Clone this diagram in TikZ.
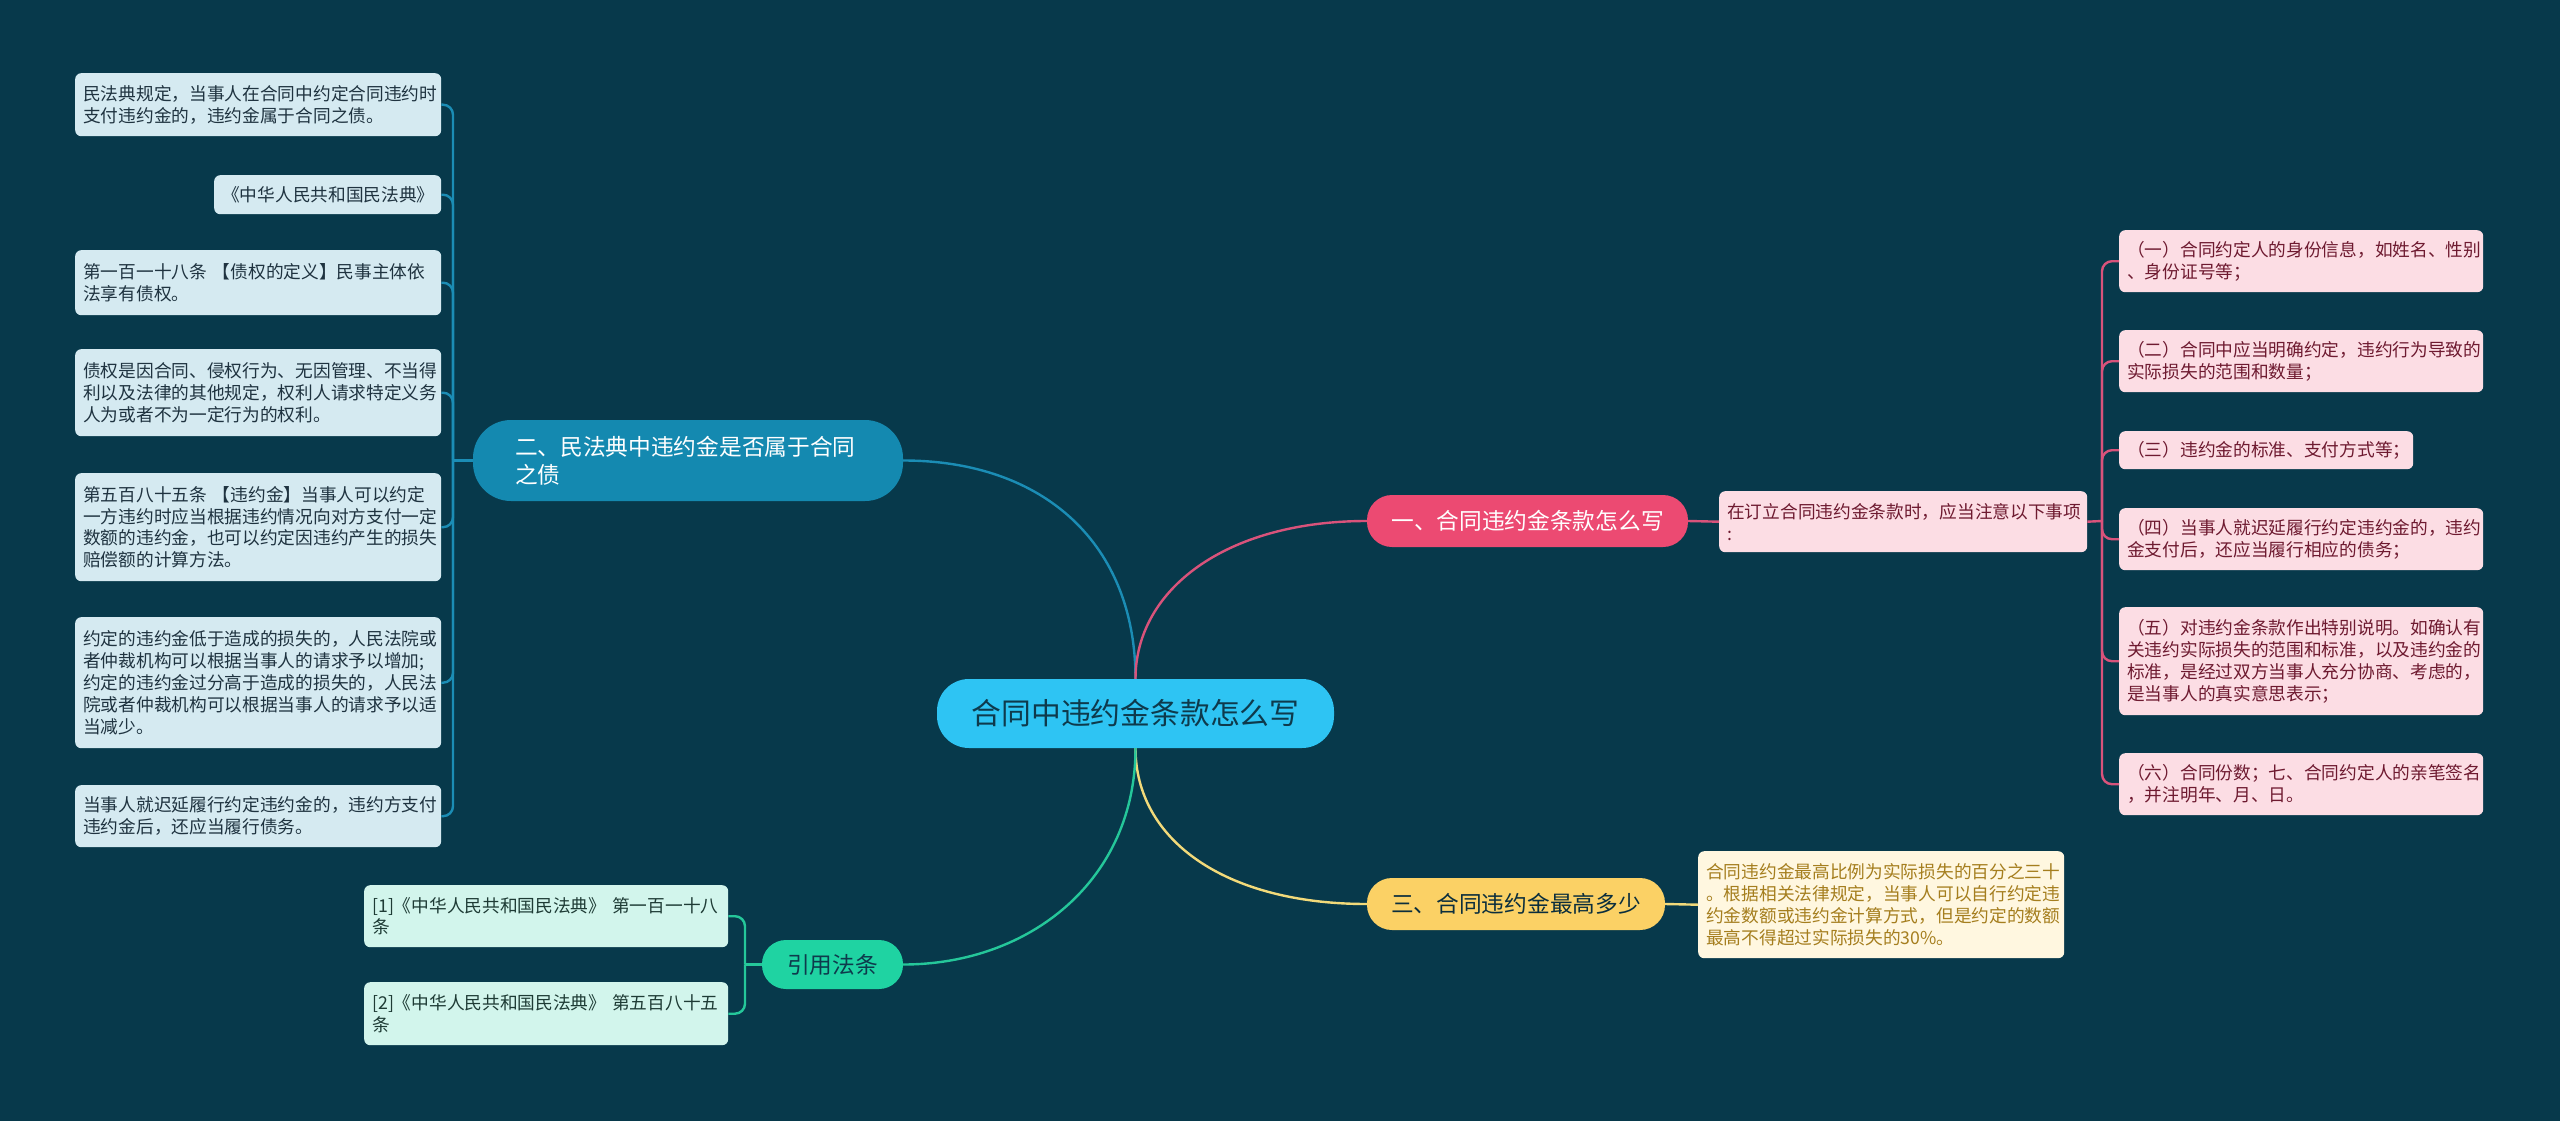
\documentclass[tikz,border=0pt]{standalone}
\usepackage{fontspec}
\setmainfont{Noto Sans CJK SC}
\definecolor{bg}{HTML}{07394B}
\definecolor{cfill}{HTML}{2EC4F3}
\definecolor{ctext}{HTML}{0E3A4C}
\definecolor{bfill}{HTML}{1489B0}
\definecolor{bline}{HTML}{1B8DB5}
\definecolor{bleaf}{HTML}{D5EAF1}
\definecolor{bleaftext}{HTML}{1F3340}
\definecolor{pfill}{HTML}{EC4A72}
\definecolor{pline}{HTML}{D9537B}
\definecolor{pleaf}{HTML}{FCDDE4}
\definecolor{pleaftext}{HTML}{6E1A30}
\definecolor{yfill}{HTML}{FBD165}
\definecolor{yline}{HTML}{F2DA7A}
\definecolor{yleaf}{HTML}{FFF7E0}
\definecolor{yleaftext}{HTML}{A57E1E}
\definecolor{gfill}{HTML}{1FD3A2}
\definecolor{gline}{HTML}{25C79A}
\definecolor{gleaf}{HTML}{D2F5EC}
\definecolor{gleaftext}{HTML}{1E3B35}
\newcommand{\leaffont}{\fontsize{17.7}{21.8}\selectfont}
\newcommand{\pillfont}{\fontsize{22.7}{28}\selectfont}
\newcommand{\rootfont}{\fontsize{29.8}{34}\selectfont}
\begin{document}
\begin{tikzpicture}[x=1pt,y=-1pt,
  leaf/.style={rectangle, rounded corners=6pt, font=\leaffont, align=left,
    inner xsep=8pt, inner ysep=0pt, anchor=north west},
  bl/.style={leaf, fill=bleaf, text=bleaftext},
  pl/.style={leaf, fill=pleaf, text=pleaftext},
  yl/.style={leaf, fill=yleaf, text=yleaftext},
  gl/.style={leaf, fill=gleaf, text=gleaftext},
  pill/.style={rectangle, font=\pillfont, inner sep=0pt, align=center},
  conn/.style={line width=2.4pt},
  rc/.style={rounded corners=10pt}
]
\useasboundingbox (0,0) rectangle (2560,1121);
\fill[bg] (0,0) rectangle (2560,1121);

% root
\node[pill, fill=cfill, text=ctext, font=\rootfont, rounded corners=32pt,
  minimum width=397pt, minimum height=69pt] (C) at (1135.5,713.5) {合同中违约金条款怎么写};

% main branches
\node[pill, fill=bfill, text=white, rounded corners=38pt, align=left,
  text width=346pt, minimum height=81pt, inner xsep=42pt] (LB) at (688,460.5)
  {二、民法典中违约金是否属于合同\\之债};
\node[pill, fill=pfill, text=white, rounded corners=25pt,
  minimum width=321pt, minimum height=52pt] (P1) at (1527.5,521) {一、合同违约金条款怎么写};
\node[pill, fill=yfill, text=ctext!80!black, rounded corners=25pt,
  minimum width=298pt, minimum height=52pt] (Y1) at (1516,904) {三、合同违约金最高多少};
\node[pill, fill=gfill, text=ctext, rounded corners=24pt,
  minimum width=141pt, minimum height=49pt] (G) at (832.5,964.5) {引用法条};

% left leaves
\node[bl, text width=350pt, minimum height=63pt] (a) at (75,73)
  {民法典规定，当事人在合同中约定合同违约时\\支付违约金的，违约金属于合同之债。};
\node[bl, text width=211pt, minimum height=39pt] (b) at (214,175)
  {《中华人民共和国民法典》};
\node[bl, text width=350pt, minimum height=65pt] (c) at (75,250)
  {第一百一十八条 【债权的定义】民事主体依\\法享有债权。};
\node[bl, text width=350pt, minimum height=87pt] (d) at (75,349)
  {债权是因合同、侵权行为、无因管理、不当得\\利以及法律的其他规定，权利人请求特定义务\\人为或者不为一定行为的权利。};
\node[bl, text width=350pt, minimum height=108pt] (e) at (75,473)
  {第五百八十五条 【违约金】当事人可以约定\\一方违约时应当根据违约情况向对方支付一定\\数额的违约金，也可以约定因违约产生的损失\\赔偿额的计算方法。};
\node[bl, text width=350pt, minimum height=131pt] (f) at (75,617)
  {约定的违约金低于造成的损失的，人民法院或\\者仲裁机构可以根据当事人的请求予以增加;\\约定的违约金过分高于造成的损失的，人民法\\院或者仲裁机构可以根据当事人的请求予以适\\当减少。};
\node[bl, text width=350pt, minimum height=62pt] (g) at (75,785)
  {当事人就迟延履行约定违约金的，违约方支付\\违约金后，还应当履行债务。};

% pink side
\node[pl, text width=352pt, minimum height=61pt] (M) at (1719,491)
  {在订立合同违约金条款时，应当注意以下事项\\:};
\node[pl, text width=348pt, minimum height=62pt] (r1) at (2119,230)
  {（一）合同约定人的身份信息，如姓名、性别\\、身份证号等；};
\node[pl, text width=348pt, minimum height=62pt] (r2) at (2119,330)
  {（二）合同中应当明确约定，违约行为导致的\\实际损失的范围和数量；};
\node[pl, text width=278pt, minimum height=38pt] (r3) at (2119,431)
  {（三）违约金的标准、支付方式等；};
\node[pl, text width=348pt, minimum height=62pt] (r4) at (2119,508)
  {（四）当事人就迟延履行约定违约金的，违约\\金支付后，还应当履行相应的债务；};
\node[pl, text width=348pt, minimum height=108pt] (r5) at (2119,607)
  {（五）对违约金条款作出特别说明。如确认有\\关违约实际损失的范围和标准，以及违约金的\\标准，是经过双方当事人充分协商、考虑的，\\是当事人的真实意思表示；};
\node[pl, text width=348pt, minimum height=62pt] (r6) at (2119,753)
  {（六）合同份数；七、合同约定人的亲笔签名\\，并注明年、月、日。};

% yellow leaf
\node[yl, text width=350pt, minimum height=107pt] (yl1) at (1698,851)
  {合同违约金最高比例为实际损失的百分之三十\\。根据相关法律规定，当事人可以自行约定违\\约金数额或违约金计算方式，但是约定的数额\\最高不得超过实际损失的30\%。};

% green leaves
\node[gl, text width=348pt, minimum height=62pt] (g1) at (364,885)
  {[1]《中华人民共和国民法典》 第一百一十八\\条};
\node[gl, text width=348pt, minimum height=63pt] (g2) at (364,982)
  {[2]《中华人民共和国民法典》 第五百八十五\\条};

% junctions
\coordinate (LJ) at (453,460.5);
\coordinate (RJ) at (2102,521);
\coordinate (GJ) at (745,964.5);

% main curves
\draw[conn, bline] (C.north) .. controls (1135.5,545) and (1045,460.5) .. (LB.east);
\draw[conn, pline] (C.north) .. controls (1135.5,590) and (1225,521) .. (P1.west);
\draw[conn, yline] (C.south) .. controls (1135.5,840) and (1225,904) .. (Y1.west);
\draw[conn, gline] (C.south) .. controls (1135.5,880) and (1030,964.5) .. (G.east);

% straight links
\draw[conn, pline] (P1.east) -- (M.west);
\draw[conn, yline] (Y1.east) -- (yl1.west);

% left fan
\draw[conn, bline] (LB.west) -- (LJ);
\foreach \n in {a,b,c,d,e,f,g}
  \draw[conn, bline, rc] (LJ) -- (LJ |- \n.east) -- (\n.east);

% right fan
\draw[conn, pline] (M.east) -- (RJ);
\foreach \n in {r1,r2,r3,r4,r5,r6}
  \draw[conn, pline, rc] (RJ) -- (RJ |- \n.west) -- (\n.west);

% green fan
\draw[conn, gline] (G.west) -- (GJ);
\foreach \n in {g1,g2}
  \draw[conn, gline, rc] (GJ) -- (GJ |- \n.east) -- (\n.east);
\end{tikzpicture}
\end{document}
